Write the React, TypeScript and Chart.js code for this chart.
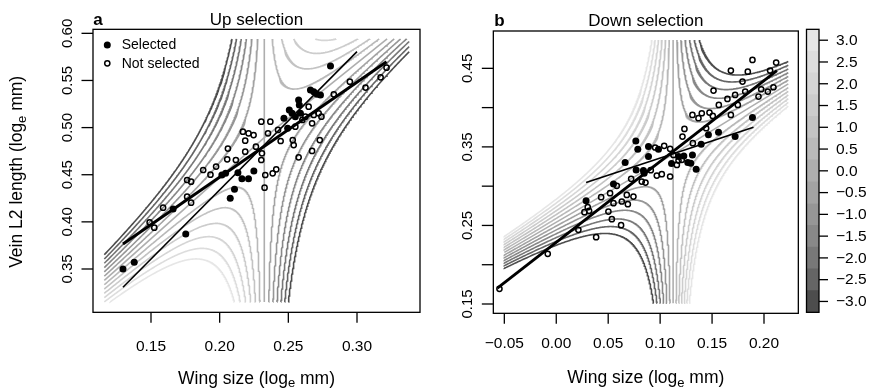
import React, { useEffect, useRef } from "react";
import { Chart, registerables } from "chart.js";

Chart.register(...registerables);

const FONT = '"Liberation Sans", Arial, Helvetica, sans-serif';

// ---------------- Panel a : Up selection ----------------
const upSelectedX = [0.1296, 0.1378, 0.1661, 0.1753, 0.2016, 0.2043, 0.2077, 0.2108, 0.2133, 0.2162, 0.221, 0.2249, 0.2468, 0.2495, 0.2507, 0.2527, 0.2551, 0.2575, 0.258, 0.2588, 0.2661, 0.2685, 0.2709, 0.2734, 0.2807];
const upSelectedY = [0.35, 0.3571, 0.4137, 0.3871, 0.4497, 0.4515, 0.425, 0.4345, 0.4522, 0.4458, 0.4458, 0.454, 0.5098, 0.4992, 0.5187, 0.5151, 0.5116, 0.5293, 0.524, 0.5151, 0.5399, 0.5381, 0.5353, 0.5346, 0.5653];
const upNotSelectedX = [0.149, 0.1524, 0.1588, 0.1763, 0.1792, 0.1763, 0.1792, 0.188, 0.1933, 0.1974, 0.2055, 0.206, 0.2118, 0.2169, 0.2186, 0.221, 0.2247, 0.2186, 0.2264, 0.2303, 0.2369, 0.2303, 0.2308, 0.2332, 0.2386, 0.2412, 0.2327, 0.2352, 0.2425, 0.2444, 0.2532, 0.2539, 0.2575, 0.2551, 0.2602, 0.2624, 0.2648, 0.2673, 0.2685, 0.2721, 0.2741, 0.2729, 0.2673, 0.2831, 0.2948, 0.3062, 0.3172, 0.3215];
const upNotSelectedY = [0.3995, 0.3938, 0.4151, 0.4444, 0.4426, 0.4267, 0.4204, 0.455, 0.4501, 0.4586, 0.4663, 0.4777, 0.4656, 0.4957, 0.4861, 0.4939, 0.4921, 0.4745, 0.4798, 0.5063, 0.5063, 0.4656, 0.4727, 0.4497, 0.4515, 0.4557, 0.4363, 0.4939, 0.4975, 0.4858, 0.4868, 0.4815, 0.4685, 0.501, 0.5081, 0.5116, 0.5222, 0.5045, 0.5134, 0.5151, 0.5116, 0.4868, 0.4752, 0.5353, 0.5487, 0.5424, 0.5533, 0.5636];
const upFitSelectedX = [0.1296, 0.3];
const upFitSelectedY = [0.3306, 0.5806];
const upFitNotSelectedX = [0.1296, 0.3215];
const upFitNotSelectedY = [0.3765, 0.5699];
const upXTicks = [0.15, 0.2, 0.25, 0.3];
const upYTicks = [0.35, 0.4, 0.45, 0.5, 0.55, 0.6];

// ---------------- Panel b : Down selection ----------------
const downSelectedX = [0.0287, 0.0551, 0.0663, 0.0766, 0.0785, 0.0769, 0.0839, 0.0846, 0.0888, 0.0888, 0.0984, 0.111, 0.1177, 0.1228, 0.1266, 0.1295, 0.1311, 0.1347, 0.1395, 0.1465, 0.1562, 0.1722, 0.1889];
const downSelectedY = [0.2813, 0.3029, 0.3301, 0.3576, 0.347, 0.3207, 0.3199, 0.3165, 0.3504, 0.3377, 0.347, 0.329, 0.3377, 0.3385, 0.3301, 0.3292, 0.3398, 0.3216, 0.3534, 0.3653, 0.3687, 0.3631, 0.3873];
const downNotSelectedX = [-0.0547, -0.0082, 0.0213, 0.0384, 0.0271, 0.0316, 0.0303, 0.0432, 0.0502, 0.0535, 0.0518, 0.0551, 0.0583, 0.0624, 0.0631, 0.0679, 0.0689, 0.0721, 0.0743, 0.0823, 0.0859, 0.091, 0.0968, 0.1016, 0.1096, 0.0952, 0.1039, 0.1096, 0.1128, 0.1161, 0.1177, 0.1209, 0.1215, 0.1234, 0.1315, 0.1311, 0.1369, 0.1401, 0.1443, 0.1475, 0.1507, 0.1514, 0.1565, 0.1648, 0.1681, 0.1722, 0.1748, 0.1681, 0.1793, 0.1844, 0.1889, 0.1819, 0.1947, 0.1973, 0.2037, 0.2059, 0.2091, 0.2117];
const downNotSelectedY = [0.1693, 0.2139, 0.2444, 0.2351, 0.2669, 0.2686, 0.2732, 0.286, 0.2677, 0.258, 0.2911, 0.2783, 0.3004, 0.2503, 0.2805, 0.2889, 0.2771, 0.3093, 0.2868, 0.3059, 0.3046, 0.3203, 0.3135, 0.3152, 0.3123, 0.3492, 0.3513, 0.3475, 0.3398, 0.3271, 0.3326, 0.3335, 0.3631, 0.3729, 0.3547, 0.3907, 0.3865, 0.3928, 0.3737, 0.3937, 0.3894, 0.4217, 0.4034, 0.4111, 0.3907, 0.4162, 0.4034, 0.4471, 0.4331, 0.4458, 0.4607, 0.4204, 0.414, 0.4234, 0.4204, 0.4471, 0.4259, 0.4573];
const downFitSelectedX = [0.0287, 0.1899];
const downFitSelectedY = [0.3046, 0.375];
const downFitNotSelectedX = [-0.0567, 0.2124];
const downFitNotSelectedY = [0.1702, 0.4471];
const downXTicks = [-0.05, 0, 0.05, 0.1, 0.15, 0.2];
const downYTicks = [0.15, 0.2, 0.25, 0.3, 0.35, 0.4, 0.45];
const downYLabelled = [0.15, 0.25, 0.35, 0.45];

// ---------------- Fitness surface (contours) ----------------
const contourLevels = [-3, -2.5, -2, -1.5, -1, -0.5, 0, 0.5, 1, 1.5, 2, 2.5, 3];
// saddle surface: [x0, y0, slopeLeft, slopeRight, curvatureLeft, curvatureRight, saddleLevel]
const upSurface = [0.2325, 0.4893, 1.3, 1.171, 0.00106, 0.001137, 0];
const upSurfaceRange = [0.116, 0.338, 0.315, 0.594];
const downSurface = [0.1125, 0.3405, 0.768, 0.809, -0.0011, -0.00105, 0];
const downSurfaceRange = [-0.05, 0.2234, 0.151, 0.486];

function levelColor(L: number) {
  const i = (L + 3) / 0.5;
  const a = Math.pow(0.3, 2.2);
  const b = Math.pow(0.9, 2.2);
  const g = Math.round(255 * Math.pow(a + ((b - a) * i) / 12, 1 / 2.2));
  return `rgb(${g},${g},${g})`;
}

type P = { x: number; y: number };

function clipSegment(p: P, q: P, xa: number, xb: number, ya: number, yb: number) {
  let t0 = 0, t1 = 1;
  const dx = q.x - p.x, dy = q.y - p.y;
  const PP = [-dx, dx, -dy, dy];
  const QQ = [p.x - xa, xb - p.x, p.y - ya, yb - p.y];
  for (let i = 0; i < 4; i++) {
    if (PP[i] === 0) {
      if (QQ[i] < 0) return null;
    } else {
      const t = QQ[i] / PP[i];
      if (PP[i] < 0) {
        if (t > t1) return null;
        if (t > t0) t0 = t;
      } else {
        if (t < t0) return null;
        if (t < t1) t1 = t;
      }
    }
  }
  return [t0, t1];
}

function clipPolyline(pts: P[], r: number[]) {
  const [xa, xb, ya, yb] = r;
  const segs: P[][] = [];
  let cur: P[] | null = null;
  for (let i = 0; i < pts.length - 1; i++) {
    const p = pts[i], q = pts[i + 1];
    const c = clipSegment(p, q, xa, xb, ya, yb);
    if (!c) {
      if (cur && cur.length > 1) segs.push(cur);
      cur = null;
      continue;
    }
    const [t0, t1] = c;
    const s = { x: p.x + (q.x - p.x) * t0, y: p.y + (q.y - p.y) * t0 };
    const e = { x: p.x + (q.x - p.x) * t1, y: p.y + (q.y - p.y) * t1 };
    if (!cur) cur = [s];
    cur.push(e);
    if (t1 < 1) {
      segs.push(cur);
      cur = null;
    }
  }
  if (cur && cur.length > 1) segs.push(cur);
  return segs;
}

function contourSegments(surf: number[], range: number[], L: number) {
  const [x0, y0, mL, mR, sL, sR, c0] = surf;
  const [xa, xb, ya, yb] = range;
  const out: P[][] = [];
  if (Math.abs(L - c0) < 1e-9) {
    out.push(...clipPolyline([{ x: x0, y: ya - 1 }, { x: x0, y: yb + 1 }], range));
    out.push(...clipPolyline([{ x: xa, y: y0 + mL * (xa - x0) }, { x: x0, y: y0 }], range));
    out.push(...clipPolyline([{ x: x0, y: y0 }, { x: xb, y: y0 + mR * (xb - x0) }], range));
    return out;
  }
  for (const side of [-1, 1]) {
    const m = side < 0 ? mL : mR;
    const s = side < 0 ? sL : sR;
    const C = s * (L - c0);
    const uEnd = Math.abs(side < 0 ? xa - x0 : xb - x0) + 0.002;
    const uMin = 1e-6;
    const N = 1500;
    const pts: P[] = [];
    for (let k = 0; k <= N; k++) {
      const u = side * uMin * Math.pow(uEnd / uMin, k / N);
      pts.push({ x: x0 + u, y: y0 + m * u + C / u });
    }
    out.push(...clipPolyline(pts, range));
  }
  return out;
}

const zip = (xs: number[], ys: number[]) => xs.map((x, i) => ({ x, y: ys[i] }));

function fmt(v: number, d: number) {
  const s = Math.abs(v).toFixed(d);
  return v < -1e-9 ? "\u2212" + s : s;
}

function drawSubText(ctx: CanvasRenderingContext2D, cx: number, cy: number, rotate: boolean, pre: string, sub: string, post: string, size: number) {
  ctx.save();
  ctx.translate(cx, cy);
  if (rotate) ctx.rotate(-Math.PI / 2);
  const big = `${size}px ${FONT}`;
  const small = `${Math.round(size * 0.72)}px ${FONT}`;
  ctx.font = big;
  const w1 = ctx.measureText(pre).width;
  const w3 = ctx.measureText(post).width;
  ctx.font = small;
  const w2 = ctx.measureText(sub).width;
  let x = -(w1 + w2 + w3) / 2;
  ctx.textAlign = "left";
  ctx.textBaseline = "alphabetic";
  ctx.fillStyle = "#000";
  ctx.font = big;
  ctx.fillText(pre, x, 0);
  x += w1;
  ctx.font = small;
  ctx.fillText(sub, x, size * 0.22);
  x += w2;
  ctx.font = big;
  ctx.fillText(post, x, 0);
  ctx.restore();
}

type PanelSpec = {
  id: string;
  letter: string;
  title: string;
  surface: number[];
  range: number[];
  sel: P[];
  notSel: P[];
  fitSel: P[];
  fitNot: P[];
  xMin: number; xMax: number; yMin: number; yMax: number;
  pad: { left: number; right: number; top: number; bottom: number };
  xTicks: number[];
  yTicks: number[];
  yLabelled: number[];
  xLabelBase: number;
  titleBase: number;
  xTitleBase: number;
  letterX: number;
  yTitle: boolean;
  legend: boolean;
};

const OPEN_R = 2.6;
const OPEN_W = 1.5;
const FILLED_R = 3.5;

function panelConfig(p: PanelSpec): any {
  const datasets: any[] = [];
  contourLevels.forEach((L) => {
    contourSegments(p.surface, p.range, L).forEach((seg) => {
      datasets.push({
        data: seg,
        showLine: true,
        borderColor: levelColor(L),
        borderWidth: 1.6,
        pointRadius: 0,
        pointHoverRadius: 0,
        fill: false,
        tension: 0,
        order: 10,
      });
    });
  });
  datasets.push({ data: p.fitNot, showLine: true, borderColor: "#000", borderWidth: 2.9, pointRadius: 0, order: 5 });
  datasets.push({ data: p.fitSel, showLine: true, borderColor: "#000", borderWidth: 1.6, pointRadius: 0, order: 5 });
  datasets.push({
    data: p.notSel,
    showLine: false,
    pointRadius: OPEN_R,
    pointBorderWidth: OPEN_W,
    pointBackgroundColor: "rgba(0,0,0,0)",
    pointBorderColor: "#000",
    order: 2,
  });
  datasets.push({
    data: p.sel,
    showLine: false,
    pointRadius: FILLED_R,
    pointBorderWidth: 0,
    pointBackgroundColor: "#000",
    pointBorderColor: "#000",
    order: 1,
  });

  const plugin = {
    id: "raxes" + p.id,
    afterDraw(chart: any) {
      const { ctx, chartArea: ca } = chart;
      const xs = chart.scales.x, ys = chart.scales.y;
      ctx.save();
      ctx.strokeStyle = "#000";
      ctx.fillStyle = "#000";
      ctx.lineWidth = 1.3;
      ctx.strokeRect(ca.left, ca.top, ca.right - ca.left, ca.bottom - ca.top);
      // x ticks
      ctx.font = `15.5px ${FONT}`;
      ctx.textAlign = "center";
      ctx.textBaseline = "alphabetic";
      p.xTicks.forEach((v) => {
        const px = xs.getPixelForValue(v);
        ctx.beginPath();
        ctx.moveTo(px, ca.bottom);
        ctx.lineTo(px, ca.bottom + 10.5);
        ctx.stroke();
        ctx.fillText(fmt(v, 2), px, p.xLabelBase);
      });
      // y ticks
      ctx.font = `15px ${FONT}`;
      p.yTicks.forEach((v) => {
        const py = ys.getPixelForValue(v);
        ctx.beginPath();
        ctx.moveTo(ca.left, py);
        ctx.lineTo(ca.left - 11.5, py);
        ctx.stroke();
        if (p.yLabelled.includes(v)) {
          ctx.save();
          ctx.translate(ca.left - 21.5, py);
          ctx.rotate(-Math.PI / 2);
          ctx.textAlign = "center";
          ctx.fillText(fmt(v, 2), 0, 0);
          ctx.restore();
        }
      });
      // titles
      const cx = (ca.left + ca.right) / 2;
      ctx.font = `17px ${FONT}`;
      ctx.textAlign = "center";
      ctx.fillText(p.title, cx, p.titleBase);
      ctx.font = `bold 17px ${FONT}`;
      ctx.textAlign = "left";
      ctx.fillText(p.letter, p.letterX, p.titleBase);
      drawSubText(ctx, cx, p.xTitleBase, false, "Wing size (log", "e", " mm)", 17.5);
      if (p.yTitle) {
        drawSubText(ctx, 22, (ca.top + ca.bottom) / 2 + 1, true, "Vein L2 length (log", "e", " mm)", 17.5);
      }
      if (p.legend) {
        const lx = ca.left + 14.3;
        ctx.beginPath();
        ctx.arc(lx, 45, FILLED_R, 0, Math.PI * 2);
        ctx.fill();
        ctx.beginPath();
        ctx.lineWidth = OPEN_W;
        ctx.arc(lx, 63.3, OPEN_R, 0, Math.PI * 2);
        ctx.stroke();
        ctx.font = `14px ${FONT}`;
        ctx.textAlign = "left";
        ctx.textBaseline = "middle";
        ctx.fillText("Selected", ca.left + 28.7, 45.5);
        ctx.fillText("Not selected", ca.left + 28.7, 63.8);
      }
      ctx.restore();
    },
  };

  return {
    type: "scatter",
    data: { datasets },
    options: {
      responsive: false,
      animation: false,
      devicePixelRatio: 1,
      events: [],
      layout: { padding: p.pad },
      plugins: { legend: { display: false }, tooltip: { enabled: false } },
      scales: {
        x: { type: "linear", min: p.xMin, max: p.xMax, display: false },
        y: { type: "linear", min: p.yMin, max: p.yMax, display: false },
      },
    },
    plugins: [plugin],
  };
}

function colorbarConfig(): any {
  const datasets = contourLevels.map((L) => ({
    data: [[L - 0.25, L + 0.25]],
    backgroundColor: levelColor(L),
    borderWidth: 0,
    barPercentage: 1,
    categoryPercentage: 1,
    grouped: false,
  }));
  const plugin = {
    id: "cbar",
    afterDraw(chart: any) {
      const { ctx, chartArea: ca } = chart;
      const ys = chart.scales.y;
      ctx.save();
      ctx.strokeStyle = "#000";
      ctx.fillStyle = "#000";
      ctx.lineWidth = 1.3;
      ctx.strokeRect(ca.left, ca.top, ca.right - ca.left, ca.bottom - ca.top);
      ctx.font = `15.5px ${FONT}`;
      ctx.textAlign = "left";
      ctx.textBaseline = "middle";
      contourLevels.forEach((v) => {
        const py = ys.getPixelForValue(v);
        ctx.beginPath();
        ctx.moveTo(ca.right, py);
        ctx.lineTo(ca.right + 9, py);
        ctx.stroke();
        ctx.fillText(fmt(v, 1), ca.right + 17, py + 0.5);
      });
      ctx.restore();
    },
  };
  return {
    type: "bar",
    data: { labels: ["z"], datasets },
    options: {
      responsive: false,
      animation: false,
      devicePixelRatio: 1,
      events: [],
      layout: { padding: { left: 6.5, right: 53, top: 29.33, bottom: 75.67 } },
      plugins: { legend: { display: false }, tooltip: { enabled: false } },
      scales: {
        x: { type: "category", display: false },
        y: { type: "linear", min: -3.25, max: 3.25, display: false },
      },
    },
    plugins: [plugin],
  };
}

const panelA: PanelSpec = {
  id: "a",
  letter: "a",
  title: "Up selection",
  surface: upSurface,
  range: upSurfaceRange,
  sel: zip(upSelectedX, upSelectedY),
  notSel: zip(upNotSelectedX, upNotSelectedY),
  fitSel: zip(upFitSelectedX, upFitSelectedY),
  fitNot: zip(upFitNotSelectedX, upFitNotSelectedY),
  xMin: 0.10777, xMax: 0.34587, yMin: 0.30403, yMax: 0.60424,
  pad: { left: 93, right: 16, top: 29.33, bottom: 75.67 },
  xTicks: upXTicks,
  yTicks: upYTicks,
  yLabelled: upYTicks,
  xLabelBase: 350.7,
  titleBase: 24.5,
  xTitleBase: 383.5,
  letterX: 93.3,
  yTitle: true,
  legend: true,
};

const panelB: PanelSpec = {
  id: "b",
  letter: "b",
  title: "Down selection",
  surface: downSurface,
  range: downSurfaceRange,
  sel: zip(downSelectedX, downSelectedY),
  notSel: zip(downNotSelectedX, downNotSelectedY),
  fitSel: zip(downFitSelectedX, downFitSelectedY),
  fitNot: zip(downFitNotSelectedX, downFitNotSelectedY),
  xMin: -0.06059, xMax: 0.23305, yMin: 0.13812, yMax: 0.49752,
  pad: { left: 57.33, right: 73.67, top: 31, bottom: 74.67 },
  xTicks: downXTicks,
  yTicks: downYTicks,
  yLabelled: downYLabelled,
  xLabelBase: 347.5,
  titleBase: 26,
  xTitleBase: 383,
  letterX: 58.3,
  yTitle: false,
  legend: false,
};

export default function App() {
  const aRef = useRef<HTMLCanvasElement>(null);
  const bRef = useRef<HTMLCanvasElement>(null);
  const cRef = useRef<HTMLCanvasElement>(null);

  useEffect(() => {
    const charts = [
      new Chart(aRef.current as HTMLCanvasElement, panelConfig(panelA)),
      new Chart(bRef.current as HTMLCanvasElement, panelConfig(panelB)),
      new Chart(cRef.current as HTMLCanvasElement, colorbarConfig()),
    ];
    return () => charts.forEach((c) => c.destroy());
  }, []);

  const abs = (left: number, width: number): React.CSSProperties => ({
    position: "absolute",
    left,
    top: 0,
    width,
    height: 388,
  });

  return (
    <div style={{ position: "fixed", left: 0, top: 0, width: 872, height: 388, background: "#fff", overflow: "hidden" }}>
      <canvas ref={aRef} width={436} height={388} style={abs(0, 436)} />
      <canvas ref={bRef} width={436} height={388} style={abs(436, 436)} />
      <canvas ref={cRef} width={72} height={388} style={abs(800, 72)} />
    </div>
  );
}
